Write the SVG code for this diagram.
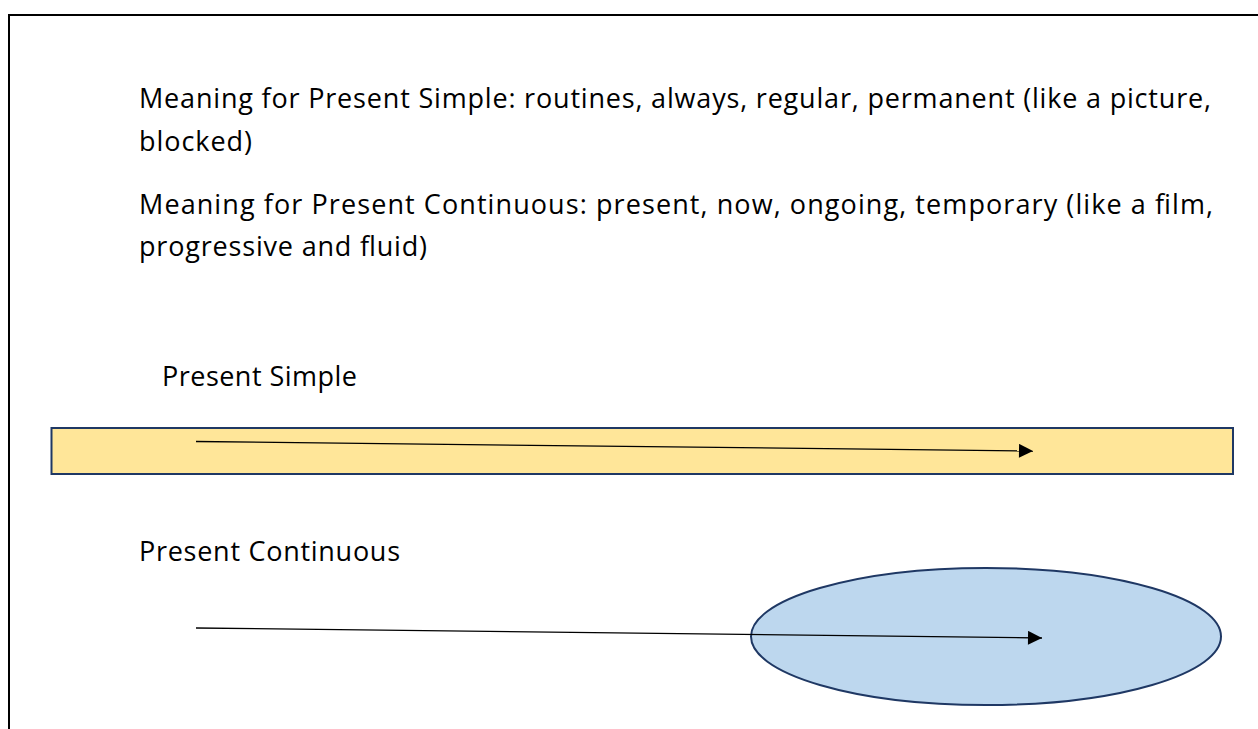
<svg xmlns="http://www.w3.org/2000/svg" width="1258" height="729" viewBox="0 0 1258 729">
<style>
text{font-family:"Open Sans",Lato,"Liberation Sans",sans-serif;font-size:27px;fill:#000}
.conn{stroke:#000;stroke-width:1.3;fill:none}
</style>
<defs>
<marker id="ah" viewBox="0 0 10 10" refX="10" refY="5" markerUnits="userSpaceOnUse" markerWidth="15" markerHeight="14" orient="auto"><path d="M0,0 L10,5 L0,10 Z" fill="#000"/></marker>
</defs>
<rect width="1258" height="729" fill="#fff"/>
<path d="M9,740 V15 H1270" fill="none" stroke="#000" stroke-width="2"/>
<g id="texts">
<text x="139" y="108" textLength="1072" lengthAdjust="spacing">Meaning for Present Simple: routines, always, regular, permanent (like a picture,</text>
<text x="139" y="151" textLength="113" lengthAdjust="spacing">blocked)</text>
<text x="139" y="214" textLength="1074" lengthAdjust="spacing">Meaning for Present Continuous: present, now, ongoing, temporary (like a film,</text>
<text x="139" y="256" textLength="288" lengthAdjust="spacing">progressive and fluid)</text>
</g>
<g id="label-simple"><text x="162" y="386" textLength="195" lengthAdjust="spacing">Present Simple</text></g>
<g id="label-continuous"><text x="139" y="561" textLength="261" lengthAdjust="spacing">Present Continuous</text></g>
<g id="node-simple"><rect x="51.5" y="428" width="1181.5" height="46" fill="#FFE699" stroke="#1F3864" stroke-width="2"/></g>
<g id="node-continuous"><ellipse cx="986" cy="636.5" rx="235" ry="68.5" fill="#BDD7EE" stroke="#1F3864" stroke-width="2"/></g>
<g id="connectors">
<line class="conn" x1="196" y1="441.5" x2="1033" y2="451" marker-end="url(#ah)"/>
<line class="conn" x1="196" y1="628" x2="1042" y2="638" marker-end="url(#ah)"/>
</g>
</svg>
